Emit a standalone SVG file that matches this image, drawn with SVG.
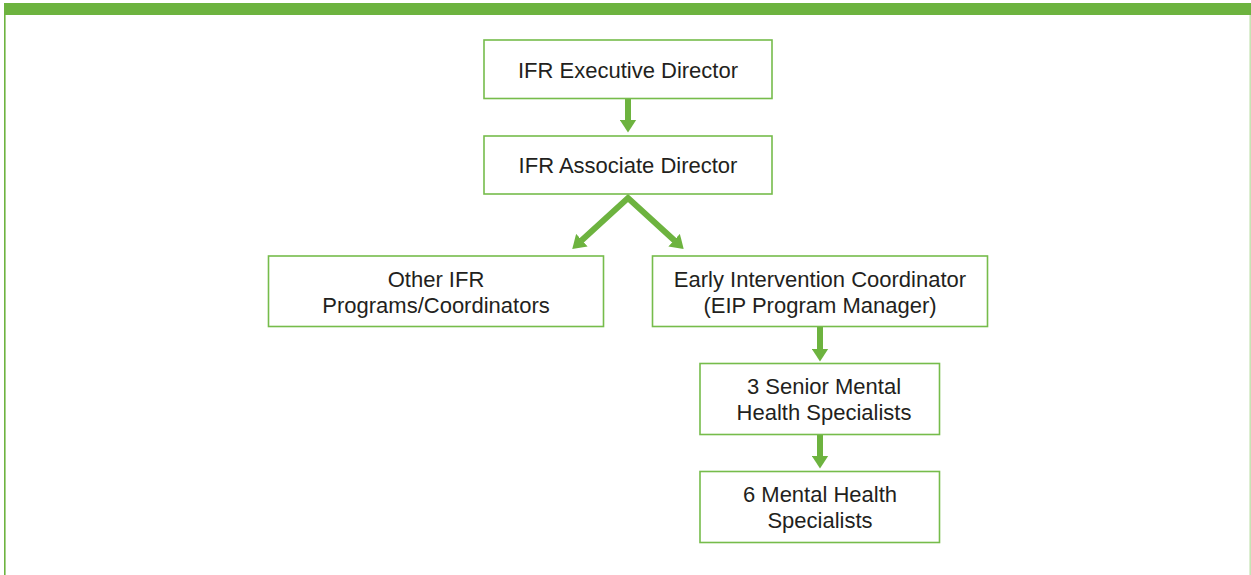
<svg xmlns="http://www.w3.org/2000/svg" width="1251" height="575" viewBox="0 0 1251 575">
<style>
.box{fill:#ffffff;stroke:#76bc4b;stroke-width:1.6}
.lbl{font-family:"Liberation Sans",Arial,sans-serif;font-size:22px;fill:#231f20;text-anchor:middle}
.conn{fill:none;stroke:#6db33f;stroke-width:6;stroke-linejoin:miter}
</style>
<defs>
<marker id="ah" markerUnits="userSpaceOnUse" viewBox="0 0 13 17" markerWidth="13" markerHeight="17" refX="0.5" refY="8.5" orient="auto-start-reverse">
<path d="M0,0 L13,8.5 L0,17 z" fill="#6db33f"/>
</marker>
</defs>
<rect x="0" y="0" width="1251" height="575" fill="#ffffff"/>
<rect x="4" y="3" width="1247" height="12" fill="#6db33f"/>
<line x1="4.8" y1="15" x2="4.8" y2="575" stroke="#6db33f" stroke-width="1.6"/>
<line x1="1250.2" y1="15" x2="1250.2" y2="575" stroke="#c6e4b4" stroke-width="1.6"/>

<g id="connectors">
<line class="conn" x1="628" y1="98" x2="628" y2="120" marker-end="url(#ah)"/>
<polyline class="conn" points="581.5,240.5 628,198 674.5,240.5" marker-start="url(#ah)" marker-end="url(#ah)"/>
<line class="conn" x1="820" y1="327" x2="820" y2="349" marker-end="url(#ah)"/>
<line class="conn" x1="820" y1="434" x2="820" y2="456" marker-end="url(#ah)"/>
</g>

<g id="exec">
<rect class="box" x="484" y="40" width="288" height="58.5"/>
<text class="lbl" x="628" y="77.5">IFR Executive Director</text>
</g>
<g id="assoc">
<rect class="box" x="484" y="136" width="288" height="58"/>
<text class="lbl" x="628" y="173">IFR Associate Director</text>
</g>
<g id="other">
<rect class="box" x="268.5" y="256" width="335" height="70.5"/>
<text class="lbl" x="436" y="287">Other IFR</text>
<text class="lbl" x="436" y="313">Programs/Coordinators</text>
</g>
<g id="eic">
<rect class="box" x="652.5" y="256" width="335" height="70.5"/>
<text class="lbl" x="820" y="287">Early Intervention Coordinator</text>
<text class="lbl" x="820" y="313">(EIP Program Manager)</text>
</g>
<g id="senior">
<rect class="box" x="700" y="363.5" width="239.5" height="71"/>
<text class="lbl" x="824" y="394">3 Senior Mental</text>
<text class="lbl" x="824" y="420">Health Specialists</text>
</g>
<g id="mhs">
<rect class="box" x="700" y="471.5" width="239.5" height="71"/>
<text class="lbl" x="820" y="502">6 Mental Health</text>
<text class="lbl" x="820" y="528">Specialists</text>
</g>
</svg>
